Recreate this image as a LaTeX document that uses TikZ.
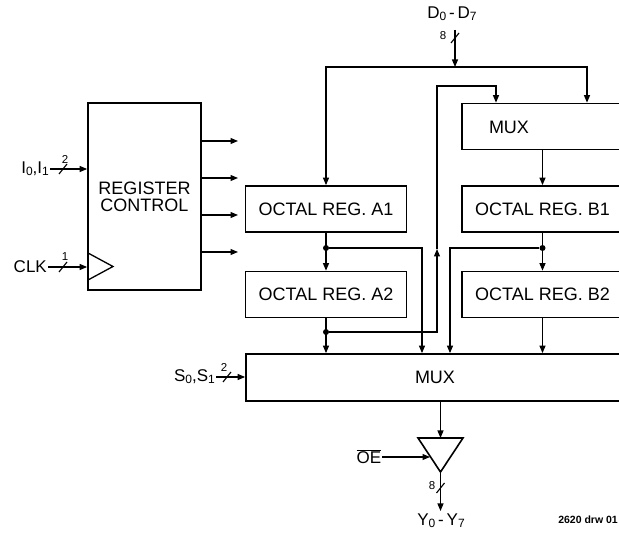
\documentclass[tikz,border=0pt]{standalone}
\usepackage{fontspec}
\setmainfont{Liberation Sans}
\usetikzlibrary{positioning,arrows.meta}
\newcommand{\dn}[1]{\raisebox{-0.2ex}{\fontsize{12}{12}\selectfont #1}}

\begin{document}
\begin{tikzpicture}[
  x=1pt, y=-1pt,
  font=\fontsize{18}{17}\selectfont,
  box/.style={draw, line width=1.7pt, minimum width=161pt, minimum height=46pt, inner sep=0pt, align=center},
  wire/.style={line width=1.1pt},
  arr/.style={wire, -{Triangle[length=7.5pt,width=6pt]}},
  tap/.style={circle, fill, inner sep=0pt, minimum size=6pt},
  sig/.style={font=\fontsize{17}{17}\selectfont, inner sep=1pt},
  buswidth/.style={font=\fontsize{11.5}{11.5}\selectfont, inner sep=0pt},
]
\clip (0,0) rectangle (619,534);

% register control block with its clock input
\node[box, minimum width=113pt, minimum height=187pt] (regctl) at (144.5,196.5) {REGISTER\\CONTROL};
\draw[line width=1.3pt] (88,253) -- (113,266.5) -- (88,280);

% inputs on the left
\node[sig, anchor=east] (i01) at (50,169) {I\dn{0},I\dn{1}};
\node[sig, anchor=east] (clk) at (48,267) {CLK};
\draw[arr] (i01) -- (regctl.west |- i01);
\draw[arr] (clk) -- (regctl.west |- clk);
\draw[wire] (63,169) ++(-4,5) -- ++(8,-10);
\draw[wire] (63,267) ++(-4,5) -- ++(8,-10);
\node[buswidth] (w2a) at (65,159) {2};
\node[buswidth] (w1) at (65,257) {1};

% register control outputs
\foreach \yy [count=\k] in {141,178,215,252} {
  \coordinate (rc\k) at (238,\yy);
  \draw[arr] (regctl.east |- rc\k) -- (rc\k);
}

% data input bus
\node[sig] (d07) at (452,14) {D\dn{0}\,-\,D\dn{7}};
\coordinate (dtop) at (455,30);
\coordinate (dbus) at (455,67);
\draw[arr] (dtop) -- (dbus);
\draw[wire] (455,38) ++(-4,5) -- ++(8,-10);
\node[buswidth] (w8a) at (443,36) {8};

% registers
\node[box] (muxb) at (542.5,126.5) {};
\node (muxbl) at (509,127) {MUX};
\node[box] (a1) at (326,209) {OCTAL REG. A1};
\node[box] (a2) at (326,294.5) {OCTAL REG. A2};
\node[box] (b1) at (542.5,209) {OCTAL REG. B1};
\node[box] (b2) at (542.5,294.5) {OCTAL REG. B2};
\node[box, minimum width=378pt, minimum height=47pt] (muxo) at (435,377.5) {MUX};

% D bus to A1 and to the upper MUX
\draw[arr] (dbus) -| (a1.north);
\draw[arr] (dbus) -| (muxb.north -| 587,0);
\draw[arr] (muxb) -- (b1);

% A side
\node[tap] (a1t) at (a1.south |- 0,248) {};
\draw[arr] (a1) -- (a2);
\draw[arr] (a1t) -| (muxo.north -| 422,0);
\node[tap] (a2t) at (a2.south |- 0,332) {};
\draw[arr] (a2) -- (a2 |- muxo.north);
\coordinate (fbup) at (437,249);
\coordinate (fbtop) at (437,86);
\draw[arr] (a2t) -| (fbup);
\draw[arr] (fbup) -- (fbtop) -| (muxb.north -| 496,0);

% B side
\node[tap] (b1t) at (b1.south |- 0,248) {};
\draw[arr] (b1) -- (b2);
\draw[arr] (b1t) -| (muxo.north -| 450,0);
\draw[arr] (b2) -- (b2 |- muxo.north);

% select input
\node[sig, anchor=east] (s01) at (216,377) {S\dn{0},S\dn{1}};
\draw[arr] (s01) -- (muxo.west |- s01);
\draw[wire] (227,377) ++(-4,5) -- ++(8,-10);
\node[buswidth] (w2b) at (224,367) {2};

% output buffer
\coordinate (bufl) at (418,438);
\coordinate (bufr) at (463,438);
\coordinate (bufo) at (440.5,472);
\draw[line width=1.6pt, line join=miter] (bufl) -- (bufr) -- (bufo) -- cycle;
\draw[arr] (muxo.south -| bufo) -- (bufo |- bufl);
\node[sig] (oe) at (369,457) {$\overline{\mbox{OE}}$};
\coordinate (bufen) at (430,457);
\draw[arr] (oe) -- (bufen);
\coordinate (yout) at (440.5,511);
\draw[arr] (bufo) -- (yout);
\draw[wire] (440.5,488) ++(-4,5) -- ++(8,-10);
\node[buswidth] (w8b) at (432,486) {8};
\node[sig] (y07) at (441,521) {Y\dn{0}\,-\,Y\dn{7}};
\node[font=\fontsize{10.5}{10.5}\selectfont\bfseries, anchor=east, inner sep=1pt] (drw) at (619,520) {2620 drw 01};

\end{tikzpicture}
\end{document}
